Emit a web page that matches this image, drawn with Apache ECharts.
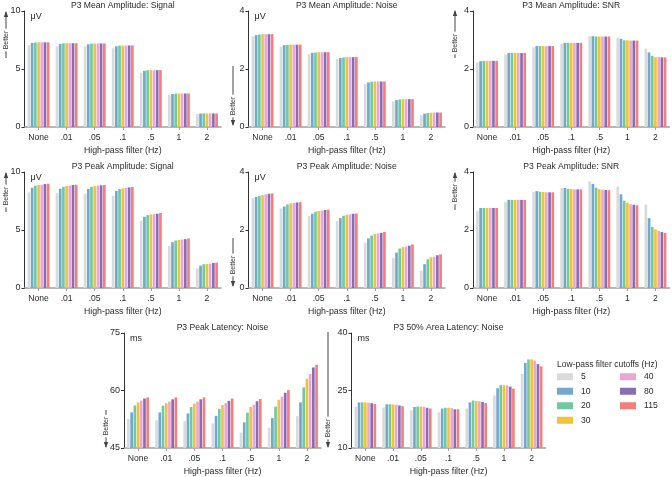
<!DOCTYPE html>
<html>
<head>
<meta charset="utf-8">
<script src="https://cdn.jsdelivr.net/npm/echarts@6/dist/echarts.min.js"></script>
<style>
html,body{margin:0;padding:0;background:#fff;}
#chart{width:672px;height:477px;}
</style>
</head>
<body>
<div id="chart"></div>
<script>
// ---------- DATA ----------
const categories = ['None', '.01', '.05', '.1', '.5', '1', '2'];
const lowPass = ['5', '10', '20', '30', '40', '80', '115'];

// rows = low-pass cutoff (5,10,20,30,40,80,115); columns = high-pass categories
const meanAmpSignal = [
  [7.05, 6.96, 6.96, 6.79, 4.67, 2.75, 1.12],
  [7.25, 7.16, 7.13, 6.96, 4.84, 2.84, 1.16],
  [7.29, 7.21, 7.19, 7.02, 4.89, 2.88, 1.17],
  [7.30, 7.22, 7.20, 7.02, 4.90, 2.89, 1.17],
  [7.30, 7.22, 7.20, 7.03, 4.90, 2.89, 1.17],
  [7.30, 7.22, 7.20, 7.03, 4.90, 2.89, 1.17],
  [7.30, 7.22, 7.20, 7.03, 4.90, 2.89, 1.17]
];
const meanAmpNoise = [
  [3.13, 2.77, 2.52, 2.34, 1.48, 0.88, 0.41],
  [3.17, 2.82, 2.56, 2.38, 1.54, 0.93, 0.46],
  [3.19, 2.83, 2.57, 2.40, 1.56, 0.95, 0.48],
  [3.20, 2.84, 2.58, 2.41, 1.57, 0.96, 0.49],
  [3.20, 2.84, 2.58, 2.41, 1.57, 0.96, 0.50],
  [3.20, 2.84, 2.58, 2.41, 1.57, 0.96, 0.50],
  [3.20, 2.84, 2.58, 2.41, 1.57, 0.96, 0.50]
];
const meanAmpSNR = [
  [2.23, 2.50, 2.75, 2.87, 3.13, 3.08, 2.70],
  [2.27, 2.55, 2.79, 2.90, 3.13, 3.04, 2.57],
  [2.28, 2.55, 2.79, 2.90, 3.12, 2.99, 2.45],
  [2.28, 2.55, 2.79, 2.90, 3.12, 2.99, 2.41],
  [2.28, 2.55, 2.79, 2.90, 3.12, 2.98, 2.41],
  [2.28, 2.55, 2.79, 2.90, 3.12, 2.98, 2.40],
  [2.28, 2.55, 2.79, 2.90, 3.12, 2.98, 2.40]
];
const peakAmpSignal = [
  [8.24, 8.18, 8.13, 7.95, 5.79, 3.63, 1.70],
  [8.65, 8.56, 8.53, 8.36, 6.14, 3.95, 1.93],
  [8.82, 8.73, 8.73, 8.53, 6.28, 4.09, 2.05],
  [8.88, 8.79, 8.79, 8.59, 6.34, 4.15, 2.07],
  [8.90, 8.82, 8.82, 8.62, 6.37, 4.18, 2.10],
  [8.96, 8.88, 8.85, 8.67, 6.40, 4.21, 2.16],
  [8.99, 8.90, 8.88, 8.70, 6.46, 4.27, 2.19]
];
const peakAmpNoise = [
  [3.10, 2.74, 2.48, 2.31, 1.56, 1.04, 0.60],
  [3.14, 2.81, 2.56, 2.41, 1.71, 1.22, 0.82],
  [3.17, 2.88, 2.63, 2.49, 1.81, 1.36, 0.99],
  [3.20, 2.92, 2.65, 2.52, 1.86, 1.41, 1.06],
  [3.23, 2.93, 2.67, 2.54, 1.88, 1.43, 1.08],
  [3.25, 2.95, 2.69, 2.56, 1.90, 1.46, 1.13],
  [3.26, 2.96, 2.70, 2.57, 1.93, 1.50, 1.16]
];
const peakAmpSNR = [
  [2.66, 2.97, 3.31, 3.44, 3.68, 3.50, 2.88],
  [2.76, 3.04, 3.34, 3.45, 3.59, 3.23, 2.41],
  [2.76, 3.04, 3.32, 3.42, 3.46, 3.01, 2.11],
  [2.76, 3.04, 3.31, 3.41, 3.41, 2.94, 2.02],
  [2.76, 3.04, 3.30, 3.40, 3.39, 2.89, 1.97],
  [2.76, 3.04, 3.30, 3.40, 3.38, 2.87, 1.93],
  [2.76, 3.04, 3.30, 3.40, 3.37, 2.85, 1.90]
];
const peakLatencyNoise = [
  [52.6, 52.2, 52.0, 51.4, 49.0, 50.3, 53.3],
  [54.3, 54.3, 54.0, 53.4, 51.7, 52.8, 56.9],
  [56.1, 56.0, 55.7, 55.2, 54.2, 55.8, 60.8],
  [56.9, 56.7, 56.6, 56.2, 55.7, 57.6, 63.1],
  [57.4, 57.1, 57.1, 56.7, 56.3, 58.4, 64.3],
  [57.9, 57.7, 57.7, 57.3, 57.2, 59.4, 66.0],
  [58.2, 58.2, 58.2, 57.9, 57.8, 60.1, 66.7]
];
const areaLatencyNoise = [
  [20.8, 20.6, 19.8, 19.3, 20.3, 23.7, 29.3],
  [21.9, 21.4, 20.7, 20.3, 21.9, 25.6, 32.2],
  [21.9, 21.4, 20.8, 20.5, 22.4, 26.4, 33.1],
  [21.9, 21.4, 20.8, 20.5, 22.3, 26.4, 33.1],
  [21.8, 21.3, 20.75, 20.4, 22.2, 26.3, 32.8],
  [21.7, 21.1, 20.5, 20.1, 22.0, 26.0, 31.9],
  [21.5, 20.9, 20.3, 20.1, 21.7, 25.5, 31.3]
];

const panelTitles = [
  'P3 Mean Amplitude: Signal', 'P3 Mean Amplitude: Noise', 'P3 Mean Amplitude: SNR',
  'P3 Peak Amplitude: Signal', 'P3 Peak Amplitude: Noise', 'P3 Peak Amplitude: SNR',
  'P3 Peak Latency: Noise', 'P3 50% Area Latency: Noise'
];
const panelData = [meanAmpSignal, meanAmpNoise, meanAmpSNR, peakAmpSignal, peakAmpNoise, peakAmpSNR, peakLatencyNoise, areaLatencyNoise];
const yMin = [0, 0, 0, 0, 0, 0, 45, 10];
const yMax = [10, 4, 4, 10, 4, 4, 75, 40];
const yStep = [5, 2, 2, 5, 2, 2, 15, 15];
const yUnit = ['μV', 'μV', '', 'μV', 'μV', '', 'ms', 'ms'];
const xAxisTitle = 'High-pass filter (Hz)';
const legendTitle = 'Low-pass filter cutoffs (Hz)';

// ---------- STYLE / LAYOUT ----------
const colors = ['#dadada', '#72a7d0', '#72c9a0', '#f5c236', '#e8a8d3', '#8a6cb5', '#f47e7b'];
const FONT = '"Liberation Sans", Arial, sans-serif';
const TXT = '#2a2a2a';
const grids = [
  {left: 24.5, top: 11, width: 196.5, height: 116},
  {left: 248.5, top: 11, width: 196.5, height: 116},
  {left: 473, top: 11, width: 196.5, height: 116},
  {left: 24.5, top: 172, width: 196.5, height: 116},
  {left: 248.5, top: 172, width: 196.5, height: 116},
  {left: 473, top: 172, width: 196.5, height: 116},
  {left: 124, top: 333, width: 197, height: 115.5},
  {left: 351.5, top: 333, width: 194, height: 115.5}
];
const titleTops = [1, 1, 1, 162, 162, 162, 323, 323];

const option = {
  animation: false,
  backgroundColor: '#fff',
  textStyle: {fontFamily: FONT},
  title: panelTitles.map((t, i) => ({
    text: t,
    left: grids[i].left + grids[i].width / 2,
    top: titleTops[i],
    textAlign: 'center',
    padding: 0,
    textStyle: {fontSize: 8.6, fontWeight: 'normal', color: TXT, fontFamily: FONT}
  })).concat([{
    text: legendTitle, left: 557, top: 360, padding: 0,
    textStyle: {fontSize: 8.5, fontWeight: 'normal', color: TXT, fontFamily: FONT}
  }]),
  grid: grids,
  xAxis: grids.map((g, i) => ({
    type: 'category',
    gridIndex: i,
    data: categories,
    name: xAxisTitle,
    nameLocation: 'middle',
    nameGap: 19,
    nameTextStyle: {fontSize: 8.8, color: TXT, fontFamily: FONT},
    axisLine: {show: true, lineStyle: {color: '#a0a0a0', width: 1.5}},
    axisTick: {show: true, alignWithLabel: true, length: 3, lineStyle: {color: '#a0a0a0'}},
    axisLabel: {fontSize: 8.6, color: TXT, margin: 6, fontFamily: FONT, interval: 0},
    splitLine: {show: false}
  })),
  yAxis: grids.map((g, i) => ({
    type: 'value',
    gridIndex: i,
    min: yMin[i],
    max: yMax[i],
    interval: yStep[i],
    name: yUnit[i],
    nameLocation: 'end',
    nameGap: -1.5,
    nameTextStyle: {fontSize: 9, color: TXT, align: 'left', verticalAlign: 'top', padding: [0, 0, 0, 6], fontFamily: FONT},
    axisLine: {show: true, lineStyle: {color: '#333', width: 1}},
    axisTick: {show: true, length: 3, lineStyle: {color: '#333'}},
    axisLabel: {fontSize: 9, color: TXT, margin: 4, fontFamily: FONT},
    splitLine: {show: false}
  })),
  legend: [
    {data: lowPass.slice(0, 4), orient: 'vertical', left: 557, top: 371, padding: 0,
     icon: 'rect', itemWidth: 16, itemHeight: 7, itemGap: 3, selectedMode: false,
     textStyle: {fontSize: 8.6, color: TXT, lineHeight: 11.5, padding: [0, 0, 0, 3], fontFamily: FONT}},
    {data: lowPass.slice(4), orient: 'vertical', left: 620, top: 371, padding: 0,
     icon: 'rect', itemWidth: 16, itemHeight: 7, itemGap: 3, selectedMode: false,
     textStyle: {fontSize: 8.6, color: TXT, lineHeight: 11.5, padding: [0, 0, 0, 3], fontFamily: FONT}}
  ],
  series: [],
  graphic: []
};

panelData.forEach((rows, p) => {
  rows.forEach((vals, k) => {
    option.series.push({
      type: 'bar',
      name: lowPass[k],
      xAxisIndex: p,
      yAxisIndex: p,
      data: vals,
      barGap: '20%',
      barCategoryGap: '22%',
      itemStyle: {color: colors[k]},
      emphasis: {disabled: true}
    });
  });
});

// "Better" direction annotations
function better(x, y1, y2, up, ty) {
  const els = [];
  els.push({type: 'line', shape: {x1: x, y1: y1, x2: x, y2: y2}, style: {stroke: '#444', lineWidth: 1}, z: 10});
  if (up) {
    els.push({type: 'polygon', shape: {points: [[x, y1 - 1], [x - 2.2, y1 + 5], [x + 2.2, y1 + 5]]}, style: {fill: '#444'}, z: 10});
  } else {
    els.push({type: 'polygon', shape: {points: [[x, y2 + 1], [x - 2.2, y2 - 5], [x + 2.2, y2 - 5]]}, style: {fill: '#444'}, z: 10});
  }
  els.push({type: 'text', x: x, y: ty, rotation: Math.PI / 2, z: 11,
    style: {text: 'Better', fontSize: 7, fill: '#333', align: 'center', verticalAlign: 'middle',
            backgroundColor: '#fff', padding: [0, 2], fontFamily: FONT}});
  return els;
}
option.graphic = [].concat(
  better(6, 12, 58, true, 40),
  better(233, 66, 125, false, 106),
  better(455, 11, 58, true, 43),
  better(6, 173, 212, true, 196),
  better(233, 238, 286, false, 265),
  better(455, 173, 210, true, 193),
  better(106, 410, 447, false, 426),
  better(328, 332, 447, false, 428)
);

const chart = echarts.init(document.getElementById('chart'), null, {renderer: 'canvas'});
chart.setOption(option);
</script>
</body>
</html>
